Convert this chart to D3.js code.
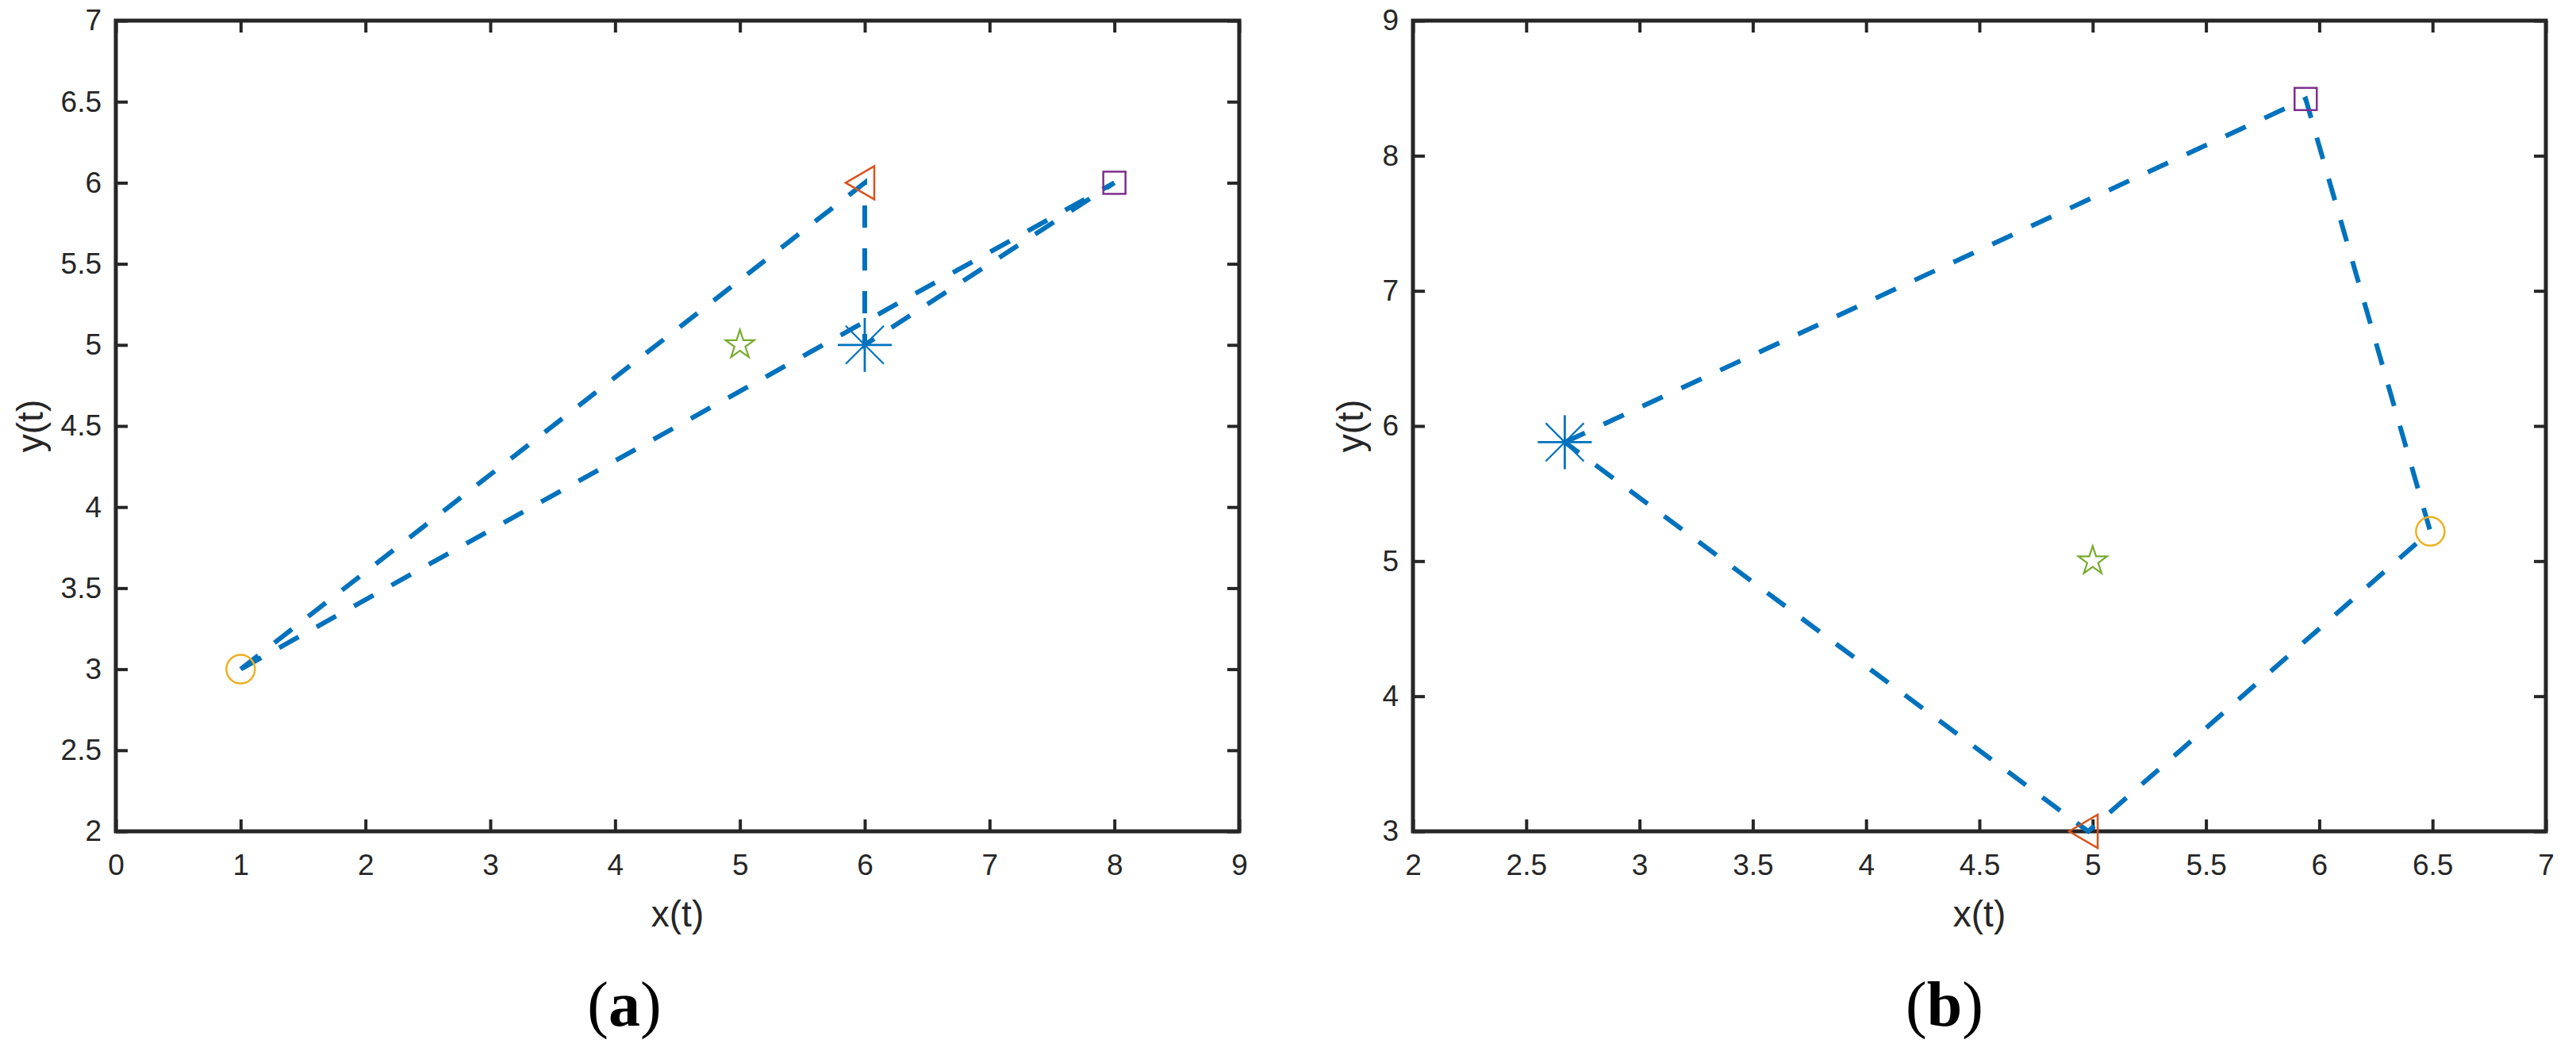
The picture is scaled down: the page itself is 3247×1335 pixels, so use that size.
<!DOCTYPE html>
<html><head><meta charset="utf-8">
<script src="https://cdn.jsdelivr.net/npm/d3@7"></script>
<style>body{margin:0;background:#fff}</style>
</head><body>
<svg id="chart" width="3247" height="1335" xmlns="http://www.w3.org/2000/svg"></svg>
<script>
// ---------- data ----------
const agentNames  = ["circle", "triangle", "square", "asterisk"];
const agentColors = ["#EDB120", "#D95319", "#7E2F8E", "#0072BD"];
const targetColor = "#77AC30";
const pathColor   = "#0072BD";

// panel (a)
const panelA_x = [1, 6, 8, 6];
const panelA_y = [3, 6, 6, 5];
const panelA_path = ["circle", "triangle", "asterisk", "square", "circle"];
const panelA_target = [5, 5];
const panelA_xTicks = [0, 1, 2, 3, 4, 5, 6, 7, 8, 9];
const panelA_yTicks = [2, 2.5, 3, 3.5, 4, 4.5, 5, 5.5, 6, 6.5, 7];
const panelA_xDomain = [0, 9];
const panelA_yDomain = [2, 7];

// panel (b)
const panelB_x = [6.49, 4.98, 5.94, 2.67];
const panelB_y = [5.22, 3.0, 8.42, 5.88];
const panelB_path = ["asterisk", "square", "circle", "triangle", "asterisk"];
const panelB_target = [5, 5];
const panelB_xTicks = [2, 2.5, 3, 3.5, 4, 4.5, 5, 5.5, 6, 6.5, 7];
const panelB_yTicks = [3, 4, 5, 6, 7, 8, 9];
const panelB_xDomain = [2, 7];
const panelB_yDomain = [3, 9];

const xLabel = "x(t)";
const yLabel = "y(t)";
const captions = ["a", "b"];

// ---------- drawing ----------
const svg = d3.select("#chart");
const ink = "#262626";
const sansFont = "'Liberation Sans', Arial, Helvetica, sans-serif";

function starPath(R) {
  const r = R * 0.382;
  const pts = [];
  for (let i = 0; i < 10; i++) {
    const a = -Math.PI / 2 + i * Math.PI / 5;
    const rr = i % 2 === 0 ? R : r;
    pts.push([rr * Math.cos(a), rr * Math.sin(a)]);
  }
  return "M" + pts.map(p => p[0].toFixed(2) + "," + p[1].toFixed(2)).join("L") + "Z";
}

function drawMarker(g, type, cx, cy, color) {
  const m = g.append("g").attr("transform", `translate(${cx},${cy})`)
    .attr("fill", "none").attr("stroke", color).attr("stroke-width", 2.5);
  if (type === "circle") {
    m.append("circle").attr("r", 18);
  } else if (type === "triangle") {
    m.append("path").attr("d", "M-24,0L12,-21L12,21Z");
  } else if (type === "square") {
    m.append("rect").attr("x", -14).attr("y", -14).attr("width", 28).attr("height", 28);
  } else if (type === "asterisk") {
    const R = 34;
    for (let k = 0; k < 4; k++) {
      const a = k * Math.PI / 4;
      m.append("line")
        .attr("x1", -R * Math.cos(a)).attr("y1", -R * Math.sin(a))
        .attr("x2", R * Math.cos(a)).attr("y2", R * Math.sin(a))
        .attr("stroke-width", k % 2 === 0 ? 2.8 : 2.2);
    }
  } else if (type === "star") {
    m.append("path").attr("d", starPath(19)).attr("stroke-width", 2.2);
  }
}

function drawPanel(cfg) {
  const { left, right, top, bottom } = cfg.box;
  const x = d3.scaleLinear().domain(cfg.xDomain).range([left, right]);
  const y = d3.scaleLinear().domain(cfg.yDomain).range([bottom, top]);
  const g = svg.append("g");

  const fmt = d => String(d);
  const styleAxis = sel => {
    sel.select(".domain").remove();
    sel.selectAll(".tick line").attr("stroke", ink).attr("stroke-width", 4);
    sel.selectAll(".tick text").attr("fill", ink).attr("font-family", sansFont).attr("font-size", 37);
  };

  g.append("g").attr("transform", `translate(0,${bottom})`)
    .call(d3.axisBottom(x).tickValues(cfg.xTicks).tickSize(-15).tickPadding(29).tickFormat(fmt))
    .call(styleAxis);
  g.append("g").attr("transform", `translate(0,${top})`)
    .call(d3.axisTop(x).tickValues(cfg.xTicks).tickSize(-15).tickFormat(""))
    .call(styleAxis);
  g.append("g").attr("transform", `translate(${left},0)`)
    .call(d3.axisLeft(y).tickValues(cfg.yTicks).tickSize(-15).tickPadding(18).tickFormat(fmt))
    .call(styleAxis);
  g.append("g").attr("transform", `translate(${right},0)`)
    .call(d3.axisRight(y).tickValues(cfg.yTicks).tickSize(-15).tickFormat(""))
    .call(styleAxis);

  g.append("rect").attr("x", left).attr("y", top)
    .attr("width", right - left).attr("height", bottom - top)
    .attr("fill", "none").attr("stroke", ink).attr("stroke-width", 5);

  // dashed connecting path
  const idx = name => agentNames.indexOf(name);
  const pts = cfg.path.map(n => [cfg.xs[idx(n)], cfg.ys[idx(n)]]);
  g.append("path")
    .attr("d", d3.line().x(d => x(d[0])).y(d => y(d[1]))(pts))
    .attr("fill", "none").attr("stroke", pathColor).attr("stroke-width", 6)
    .attr("stroke-dasharray", "28,26").attr("stroke-linecap", "butt");

  // target star
  drawMarker(g, "star", x(cfg.target[0]), y(cfg.target[1]), targetColor);
  // agents
  agentNames.forEach((n, i) => drawMarker(g, n, x(cfg.xs[i]), y(cfg.ys[i]), agentColors[i]));

  // axis labels
  g.append("text").attr("x", (left + right) / 2).attr("y", cfg.xLabelY)
    .attr("text-anchor", "middle").attr("font-family", sansFont).attr("font-size", 46)
    .attr("fill", ink).text(xLabel);
  g.append("text").attr("transform", `translate(${cfg.yLabelX},${(top + bottom) / 2}) rotate(-90)`)
    .attr("text-anchor", "middle").attr("font-family", sansFont).attr("font-size", 46)
    .attr("fill", ink).text(yLabel);

  // caption
  const cap = g.append("text").attr("x", cfg.captionX).attr("y", 1293)
    .attr("text-anchor", "middle").attr("font-family", "'Liberation Serif', 'Times New Roman', serif")
    .attr("font-size", 80).attr("fill", "#000");
  cap.append("tspan").text("(");
  cap.append("tspan").attr("font-weight", "bold").text(cfg.caption);
  cap.append("tspan").text(")");
}

drawPanel({
  box: { left: 146, right: 1562, top: 26, bottom: 1048 },
  xDomain: panelA_xDomain, yDomain: panelA_yDomain,
  xTicks: panelA_xTicks, yTicks: panelA_yTicks,
  xs: panelA_x, ys: panelA_y, path: panelA_path, target: panelA_target,
  xLabelY: 1168, yLabelX: 54, captionX: 787, caption: captions[0]
});
drawPanel({
  box: { left: 1781, right: 3209, top: 26, bottom: 1048 },
  xDomain: panelB_xDomain, yDomain: panelB_yDomain,
  xTicks: panelB_xTicks, yTicks: panelB_yTicks,
  xs: panelB_x, ys: panelB_y, path: panelB_path, target: panelB_target,
  xLabelY: 1168, yLabelX: 1718, captionX: 2451, caption: captions[1]
});
</script>
</body></html>
